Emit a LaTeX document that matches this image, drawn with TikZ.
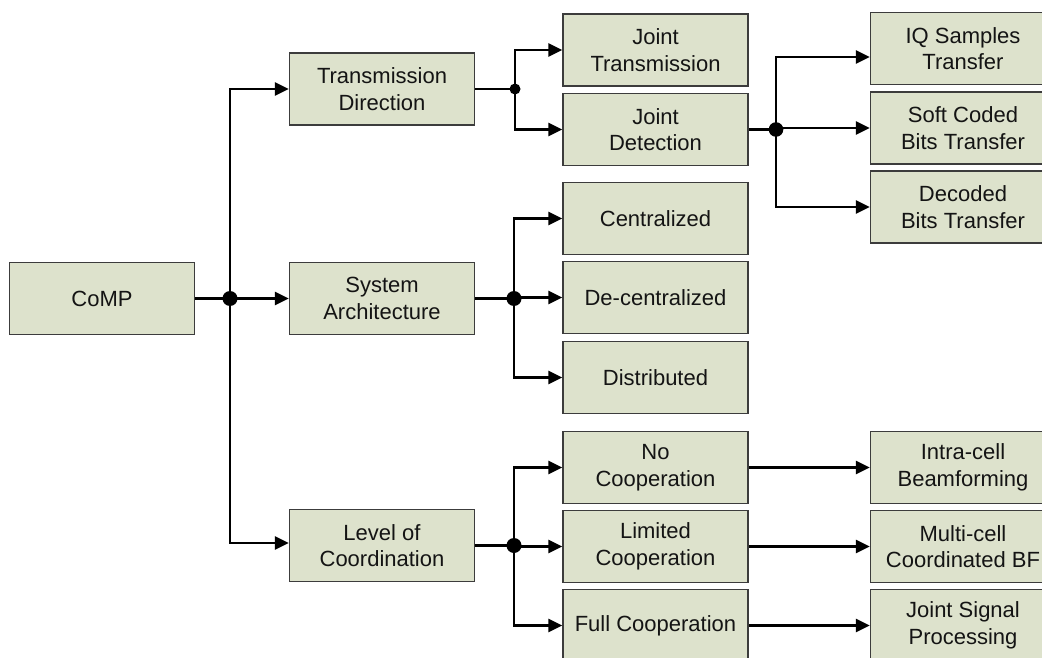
\documentclass[tikz,border=0pt]{standalone}
\usepackage{fontspec}
\setmainfont{Liberation Sans}
\usetikzlibrary{arrows.meta}
\definecolor{boxfill}{RGB}{221,226,204}
\definecolor{boxline}{RGB}{60,60,60}
\definecolor{txt}{RGB}{20,20,20}
\tikzset{
  blk/.style={draw=boxline, line width=1.5pt, fill=boxfill, minimum width=185pt, minimum height=72pt,
    inner sep=0pt, align=center, text=txt, font=\fontsize{22}{26.6}\selectfont},
  conn/.style={line width=2.6pt, black},
  arr/.style={conn, -{Triangle[length=14pt,width=13pt]}},
}
\begin{document}
\begin{tikzpicture}[x=1pt,y=-1pt]
\useasboundingbox (0,0) rectangle (1042,658);
\clip (0,0) rectangle (1042,658);
% nodes
\node[blk] (comp) at (102,298.5) {CoMP};
\node[blk] (td) at (382,89) {Transmission\\Direction};
\node[blk] (sa) at (382,298.5) {System\\Architecture};
\node[blk] (loc) at (382,545.5) {Level of\\Coordination};
\node[blk] (jt) at (655.5,50) {Joint\\Transmission};
\node[blk] (jd) at (655.5,129.5) {Joint\\Detection};
\node[blk] (cen) at (655.5,218.5) {Centralized};
\node[blk] (dec) at (655.5,297.5) {De-centralized};
\node[blk] (dis) at (655.5,377.5) {Distributed};
\node[blk] (noc) at (655.5,467.5) {No\\Cooperation};
\node[blk] (lim) at (655.5,546.5) {Limited\\Cooperation};
\node[blk] (ful) at (655.5,625.5) {Full Cooperation};
\node[blk] (iq) at (963,48.5) {IQ Samples\\Transfer};
\node[blk] (soft) at (963,128) {Soft Coded\\Bits Transfer};
\node[blk] (dcd) at (963,207) {Decoded\\Bits Transfer};
\node[blk] (intra) at (963,467.5) {Intra-cell\\Beamforming};
\node[blk] (multi) at (963,546.5) {Multi-cell\\Coordinated BF};
\node[blk] (jsp) at (963,625.5) {Joint Signal\\Processing};
% junctions
\coordinate (j1) at (comp.east -| 230,0);
\coordinate (j2) at (td.east -| 515,0);
\coordinate (j3) at (jd.east -| 776,0);
\coordinate (j4) at (sa.east -| 514,0);
\coordinate (j5) at (loc.east -| 514,0);
% CoMP
\draw[conn] (comp.east) -- (j1);
\draw[arr] (j1) -- (sa.west);
\draw[arr] (j1) |- (td.west);
\draw[arr] (j1) |- ([yshift=2.5pt]loc.west);
% TD
\draw[conn] (td.east) -- (j2);
\draw[arr] (j2) |- (jt.west);
\draw[arr] (j2) |- (jd.west);
% JD
\draw[conn] (jd.east) -- (j3);
\draw[arr] (j3) |- ([yshift=-8.5pt]iq.west);
\draw[arr] (j3) |- (soft.west);
\draw[arr] (j3) |- (dcd.west);
% SA
\draw[conn] (sa.east) -- (j4);
\draw[arr] (j4) |- (cen.west);
\draw[arr] (j4) |- (dec.west);
\draw[arr] (j4) |- (dis.west);
% LoC
\draw[conn] (loc.east) -- (j5);
\draw[arr] (j5) |- (noc.west);
\draw[arr] (j5) |- (lim.west);
\draw[arr] (j5) |- (ful.west);
% third level
\draw[arr] (noc.east) -- (intra.west);
\draw[arr] (lim.east) -- (multi.west);
\draw[arr] (ful.east) -- (jsp.west);
% dots
\fill (j1) circle (7.5);
\fill (j2) circle (5.5);
\fill (j3) circle (7.3);
\fill (j4) circle (7.5);
\fill (j5) circle (7.5);
\end{tikzpicture}
\end{document}
